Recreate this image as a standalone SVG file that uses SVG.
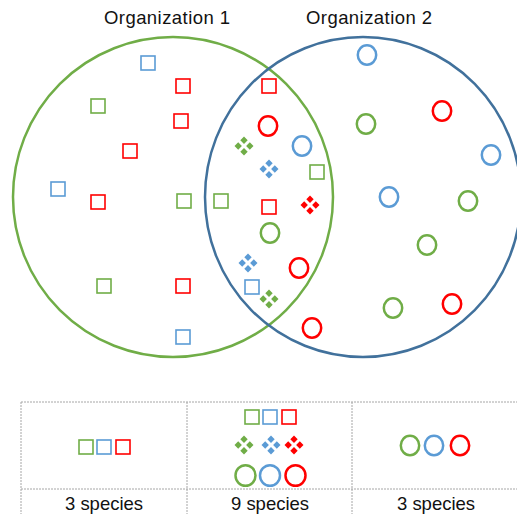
<svg xmlns="http://www.w3.org/2000/svg" xmlns:xlink="http://www.w3.org/1999/xlink" width="517" height="514" viewBox="0 0 517 514">
<style>
.t{font-family:"Liberation Sans",Arial,sans-serif;font-size:18.5px;fill:#111;text-anchor:middle}
.sq{fill:none;stroke-width:1.6}
.ci{fill:none;stroke-width:2.5}
.g{stroke:#70AD47}.b{stroke:#5B9BD5}.r{stroke:#FF0000}
.gf{fill:#70AD47}.bf{fill:#5B9BD5}.rf{fill:#FF0000}
.grid{stroke:#A6A6A6;stroke-width:1;stroke-dasharray:2 1;fill:none}
</style>
<defs>
<rect id="sq" x="-7" y="-7" width="14" height="14"/>
<ellipse id="ci" cx="0" cy="0" rx="9.2" ry="9.8"/>
<ellipse id="ct" cx="0" cy="0" rx="10" ry="10.3"/>
<path id="dm" d="M0,-9.5 L3.7,-5.8 L0,-2.1 L-3.7,-5.8Z M0,2.1 L3.7,5.8 L0,9.5 L-3.7,5.8Z M-9.5,0 L-5.8,-3.7 L-2.1,0 L-5.8,3.7Z M9.5,0 L5.8,-3.7 L2.1,0 L5.8,3.7Z"/>
</defs>
<rect width="517" height="514" fill="#fff"/>
<g id="org1">
<ellipse cx="173" cy="197" rx="160" ry="160" fill="none" stroke="#70AD47" stroke-width="2.5"/>
<text class="t" x="167" y="24" textLength="126">Organization 1</text>
</g>
<g id="org2">
<ellipse cx="363" cy="197" rx="158" ry="160" fill="none" stroke="#41719C" stroke-width="2.5"/>
<text class="t" x="369" y="24" textLength="126">Organization 2</text>
</g>
<g id="species">
<use xlink:href="#sq" class="sq b" x="148" y="63"/>
<use xlink:href="#sq" class="sq r" x="183" y="86"/>
<use xlink:href="#sq" class="sq g" x="98" y="106"/>
<use xlink:href="#sq" class="sq r" x="181" y="121"/>
<use xlink:href="#sq" class="sq r" x="130" y="151"/>
<use xlink:href="#sq" class="sq b" x="58" y="189"/>
<use xlink:href="#sq" class="sq r" x="98" y="202"/>
<use xlink:href="#sq" class="sq g" x="184" y="201"/>
<use xlink:href="#sq" class="sq g" x="221" y="201"/>
<use xlink:href="#sq" class="sq g" x="104" y="286"/>
<use xlink:href="#sq" class="sq r" x="183" y="286"/>
<use xlink:href="#sq" class="sq b" x="183" y="337"/>
<use xlink:href="#sq" class="sq r" x="269" y="86"/>
<use xlink:href="#sq" class="sq g" x="317" y="172"/>
<use xlink:href="#sq" class="sq r" x="269" y="207"/>
<use xlink:href="#sq" class="sq b" x="252" y="287"/>
<use xlink:href="#dm" class="gf" x="244" y="146"/>
<use xlink:href="#dm" class="bf" x="269" y="169"/>
<use xlink:href="#dm" class="rf" x="310" y="205"/>
<use xlink:href="#dm" class="bf" x="248" y="263"/>
<use xlink:href="#dm" class="gf" x="269" y="299"/>
<use xlink:href="#ci" class="ci b" x="367" y="55"/>
<use xlink:href="#ci" class="ci r" x="268" y="126"/>
<use xlink:href="#ci" class="ci g" x="366" y="124"/>
<use xlink:href="#ci" class="ci r" x="442" y="111"/>
<use xlink:href="#ci" class="ci b" x="302" y="146"/>
<use xlink:href="#ci" class="ci b" x="491" y="155"/>
<use xlink:href="#ci" class="ci b" x="389" y="197"/>
<use xlink:href="#ci" class="ci g" x="468" y="201"/>
<use xlink:href="#ci" class="ci g" x="270" y="233"/>
<use xlink:href="#ci" class="ci g" x="427" y="245"/>
<use xlink:href="#ci" class="ci r" x="299" y="268"/>
<use xlink:href="#ci" class="ci g" x="393" y="308"/>
<use xlink:href="#ci" class="ci r" x="452" y="304"/>
<use xlink:href="#ci" class="ci r" x="312" y="328"/>
</g>
<g id="table">
<path class="grid" d="M21,402 H517 M21,489 H517 M21,402 V514 M187,402 V514 M352,402 V514"/>
<use xlink:href="#sq" class="sq g" x="86" y="447"/>
<use xlink:href="#sq" class="sq b" x="104" y="447"/>
<use xlink:href="#sq" class="sq r" x="123" y="447"/>
<use xlink:href="#sq" class="sq g" x="252" y="417"/>
<use xlink:href="#sq" class="sq b" x="270" y="417"/>
<use xlink:href="#sq" class="sq r" x="289" y="417"/>
<use xlink:href="#dm" class="gf" x="244" y="445"/>
<use xlink:href="#dm" class="bf" x="271" y="445"/>
<use xlink:href="#dm" class="rf" x="294" y="445"/>
<use xlink:href="#ct" class="ci g" x="245.5" y="475.5"/>
<use xlink:href="#ct" class="ci b" x="270" y="475.5"/>
<use xlink:href="#ct" class="ci r" x="295.5" y="475.5"/>
<use xlink:href="#ci" class="ci g" x="410" y="445.5"/>
<use xlink:href="#ci" class="ci b" x="434" y="445.5"/>
<use xlink:href="#ci" class="ci r" x="460" y="445.5"/>
<text class="t" x="104" y="510" textLength="78">3 species</text>
<text class="t" x="270" y="510" textLength="78">9 species</text>
<text class="t" x="436" y="510" textLength="78">3 species</text>
</g>
</svg>
